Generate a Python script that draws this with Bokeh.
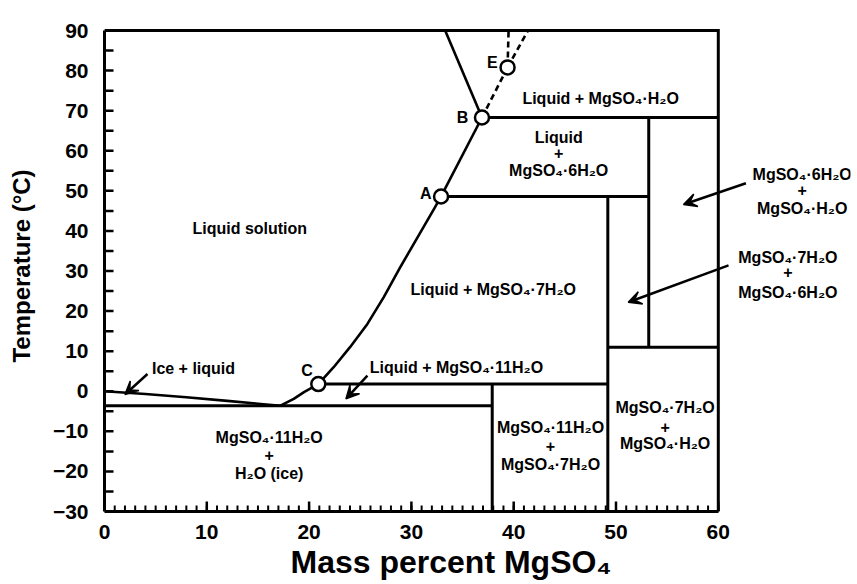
import math

from bokeh.plotting import figure
from bokeh.models import FixedTicker, Arrow, VeeHead, Title
from bokeh.core.properties import value
from bokeh.embed import file_html
from bokeh.resources import INLINE

FONT = "Liberation Sans"

# Invariant points of the MgSO4-H2O system (mass % MgSO4, temperature in °C)
POINT_LABELS = ["A", "B", "C", "E"]
POINT_X = [32.9, 36.9, 20.9, 39.4]
POINT_T = [48.6, 68.3, 1.8, 80.8]

# Ice liquidus, from pure water down to the eutectic
ICE_X = [0.0, 4.0, 8.0, 12.0, 15.0, 17.2]
ICE_T = [0.0, -0.7, -1.5, -2.4, -3.1, -3.6]

# MgSO4·11H2O liquidus (eutectic -> C)
UNDECA_X = [17.2, 18.5, 19.5, 20.9]
UNDECA_T = [-3.6, -1.9, -0.2, 1.8]

# MgSO4·7H2O liquidus (C -> A)
HEPTA_X = [20.9, 22.4, 24.0, 25.7, 27.3, 28.9, 30.6, 32.3, 32.9]
HEPTA_T = [1.8, 6.0, 11.0, 16.8, 23.5, 30.9, 38.4, 45.9, 48.6]

# MgSO4·6H2O liquidus (A -> B) and MgSO4·H2O liquidus (B -> top)
HEXA_X = [32.9, 36.9]
HEXA_T = [48.6, 68.3]
MONO_X = [36.9, 33.3]
MONO_T = [68.3, 90.0]

# Metastable extensions (dashed)
META_X = [[36.9, 39.4], [39.4, 39.5], [39.4, 41.4]]
META_T = [[68.3, 80.8], [80.8, 90.0], [80.8, 90.0]]

# Horizontal and vertical phase boundaries
BOUND_X = [[0.0, 37.9], [20.9, 49.2], [37.9, 37.9], [49.2, 49.2],
           [32.9, 53.2], [53.2, 53.2], [49.2, 60.0], [36.9, 60.0]]
BOUND_T = [[-3.6, -3.6], [1.8, 1.8], [-30.0, 1.8], [-30.0, 48.6],
           [48.6, 48.6], [11.0, 68.3], [11.0, 11.0], [68.3, 68.3]]

X_TICKS = [0, 10, 20, 30, 40, 50, 60]
X_MINOR = list(range(0, 61))
Y_TICKS = [-30, -20, -10, 0, 10, 20, 30, 40, 50, 60, 70, 80, 90]
Y_MINOR = list(range(-30, 91, 5))

X_TITLE = "Mass percent MgSO₄"
Y_TITLE = "Temperature (°C)"

# Field names and where they are written
FIELD_TEXT = [
    "Liquid solution",
    "Liquid + MgSO₄·H₂O",
    "Liquid", "+", "MgSO₄·6H₂O",
    "Liquid + MgSO₄·7H₂O",
    "Liquid + MgSO₄·11H₂O",
    "Ice + liquid",
    "MgSO₄·11H₂O", "+", "H₂O (ice)",
    "MgSO₄·11H₂O", "+", "MgSO₄·7H₂O",
    "MgSO₄·7H₂O", "+", "MgSO₄·H₂O",
    "MgSO₄·6H₂O", "+", "MgSO₄·H₂O",
    "MgSO₄·7H₂O", "+", "MgSO₄·6H₂O",
]
FIELD_X = [
    14.2,
    48.5,
    44.4, 44.4, 44.4,
    38.0,
    34.4,
    8.7,
    16.1, 16.1, 16.1,
    43.6, 43.6, 43.6,
    54.8, 54.8, 54.8,
    68.2, 68.2, 68.2,
    66.8, 66.8, 66.8,
]
FIELD_T = [
    40.6,
    73.0,
    63.4, 59.4, 55.0,
    25.4,
    6.0,
    5.6,
    -11.5, -15.8, -20.5,
    -9.0, -13.7, -18.3,
    -4.0, -8.8, -13.1,
    54.2, 50.1, 45.5,
    33.4, 29.7, 24.7,
]

# Point-letter positions
LETTER_X = [31.4, 35.0, 19.8, 37.9]
LETTER_T = [49.4, 68.4, 5.2, 82.1]

# Pointer arrows (start -> tip)
ARROW_X0 = [4.2, 25.7, 62.7, 61.0]
ARROW_T0 = [4.3, 3.9, 51.9, 31.4]
ARROW_X1 = [2.0, 23.6, 56.6, 51.2]
ARROW_T1 = [-0.8, -1.9, 46.6, 22.2]

W, H = 857, 584
LEFT, RIGHT, TOP, BOTTOM = 104, 7, 20, 73
PX_PER_X = 10.23
PX_PER_T = 4.008
X_END = (W - LEFT - RIGHT) / PX_PER_X
T_END = -30 + (H - TOP - BOTTOM) / PX_PER_T

p = figure(width=W, height=H, x_range=(0, X_END), y_range=(-30, T_END),
           output_backend="svg", toolbar_location=None,
           min_border_left=LEFT, min_border_right=RIGHT,
           min_border_top=TOP, min_border_bottom=BOTTOM)
p.outline_line_color = None
p.xgrid.visible = False
p.ygrid.visible = False
p.background_fill_color = "white"
p.border_fill_color = "white"

for ax in (p.xaxis[0], p.yaxis[0]):
    ax.axis_line_width = 3
    ax.axis_line_color = "black"
    ax.major_tick_line_color = None
    ax.minor_tick_line_color = None
    ax.major_label_text_font = FONT
    ax.major_label_text_font_style = "bold"
    ax.major_label_text_font_size = "21px"
    ax.major_label_text_color = "black"
    ax.axis_label_text_font = FONT
    ax.axis_label_text_font_style = "bold"
    ax.axis_label_text_color = "black"

p.xaxis.ticker = FixedTicker(ticks=X_TICKS)
p.xaxis.bounds = (0, 60)
p.xaxis.major_label_standoff = 7

p.yaxis.ticker = FixedTicker(ticks=Y_TICKS)
p.yaxis.bounds = (-30, 90)
p.yaxis.major_label_standoff = 10
p.yaxis.axis_label = Y_TITLE
p.yaxis.axis_label_text_font_size = "24px"
p.yaxis.axis_label_standoff = 15

# x-axis title, centred under the 0-60 span of the axis
p.add_layout(Title(text=X_TITLE, align="left", offset=186, standoff=0,
                   text_font=FONT, text_font_style="bold",
                   text_font_size="32px", text_color="black"), "below")

# inward tick marks along the left and bottom edges
p.ray(x=[0] * len(Y_MINOR), y=Y_MINOR, length=9, length_units="screen",
      angle=0, line_color="black", line_width=2.5)
p.ray(x=X_MINOR, y=[-30] * len(X_MINOR), length=6, length_units="screen",
      angle=math.pi / 2, line_color="black", line_width=2)
p.ray(x=X_TICKS, y=[-30] * len(X_TICKS), length=10, length_units="screen",
      angle=math.pi / 2, line_color="black", line_width=2.5)

# top and right edges of the diagram box
p.line([0, 60, 60], [90, 90, -30], line_color="black", line_width=3, line_join="miter")

# phase boundaries
p.multi_line(BOUND_X, BOUND_T, line_color="black", line_width=3)
for xs, ts in ((ICE_X, ICE_T), (UNDECA_X, UNDECA_T), (HEPTA_X, HEPTA_T),
               (HEXA_X, HEXA_T), (MONO_X, MONO_T)):
    p.line(xs, ts, line_color="black", line_width=2.6, line_join="round")
p.multi_line(META_X, META_T, line_color="black", line_width=2.6, line_dash="6 4")

# invariant points
p.scatter(POINT_X, POINT_T, size=14, marker="circle", fill_color="white",
          line_color="black", line_width=2.5)
p.text(LETTER_X, LETTER_T, text=POINT_LABELS, text_font=value(FONT),
       text_font_style="bold", text_font_size="16px", text_align="center",
       text_baseline="middle", text_color="black")

# field labels
p.text(FIELD_X, FIELD_T, text=FIELD_TEXT, text_font=value(FONT),
       text_font_style="bold", text_font_size="16px", text_align="center",
       text_baseline="middle", text_color="black")

for x0, t0, x1, t1 in zip(ARROW_X0, ARROW_T0, ARROW_X1, ARROW_T1):
    p.add_layout(Arrow(end=VeeHead(size=13, fill_color="black", line_color="black",
                                   line_width=1.5),
                       x_start=x0, y_start=t0, x_end=x1, y_end=t1,
                       line_color="black", line_width=2.5))

open("out.html", "w").write(file_html(p, INLINE))
